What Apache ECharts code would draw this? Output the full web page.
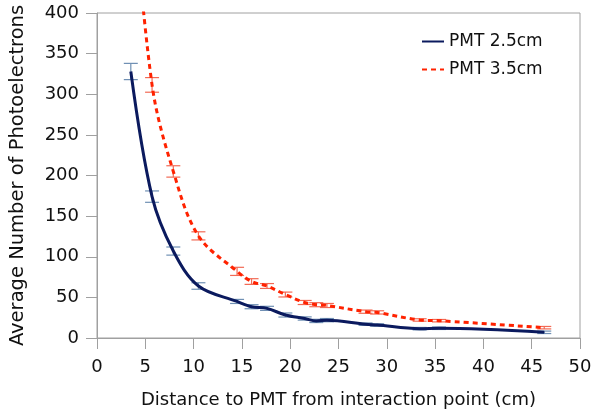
<!DOCTYPE html>
<html>
<head>
<meta charset="utf-8">
<script src="https://cdn.jsdelivr.net/npm/echarts@6/dist/echarts.min.js"></script>
<style>
html,body{margin:0;padding:0;background:#fff;}
#chart{width:593px;height:417px;}
</style>
</head>
<body>
<div id="chart"></div>
<script>
// Distances (cm)
var distances = [3.5, 5.7, 7.9, 10.5, 14.5, 16.0, 17.6, 19.5, 21.5, 22.7, 23.8, 27.8, 29.0, 33.4, 35.4, 46.3];
// PMT 2.5cm
var pmt25 = [328, 174, 107, 64, 45, 38.5, 36.5, 28.3, 24, 21, 22, 17, 16, 11.5, 12, 7];
var pmt25Err = [10, 7, 5, 4, 2.5, 2.5, 2.5, 2.5, 2, 2, 2, 1.5, 1.5, 1.5, 1.5, 1.5];
// PMT 3.5cm
var pmt35 = [580, 311.5, 205, 125.7, 82, 69.5, 64, 53.5, 43.7, 41, 40, 32.4, 31.5, 22.2, 21.3, 12.7];
var pmt35Err = [0, 9, 7, 5, 5, 3.5, 3, 3, 2.5, 2.5, 2.5, 2, 2, 1.5, 1.5, 1.5];

var seriesNames = ['PMT 2.5cm', 'PMT 3.5cm'];
var xTicks = [0, 5, 10, 15, 20, 25, 30, 35, 40, 45, 50];
var yTicks = [0, 50, 100, 150, 200, 250, 300, 350, 400];

var FONT = 'DejaVu Sans';

function pairs(xs, ys) {
  return xs.map(function (x, i) { return [x, ys[i]]; });
}
function errData(xs, ys, es) {
  return xs.map(function (x, i) { return [x, ys[i] - es[i], ys[i] + es[i]]; });
}
function errRender(color) {
  return function (params, api) {
    var x = api.value(0);
    var lo = api.coord([x, api.value(1)]);
    var hi = api.coord([x, api.value(2)]);
    var hw = 7;
    var st = { stroke: color, lineWidth: 1.2 };
    return {
      type: 'group',
      children: [
        { type: 'line', shape: { x1: lo[0], y1: lo[1], x2: hi[0], y2: hi[1] }, style: st },
        { type: 'line', shape: { x1: lo[0] - hw, y1: lo[1], x2: lo[0] + hw, y2: lo[1] }, style: st },
        { type: 'line', shape: { x1: hi[0] - hw, y1: hi[1], x2: hi[0] + hw, y2: hi[1] }, style: st }
      ]
    };
  };
}

var chart = echarts.init(document.getElementById('chart'), null, { renderer: 'canvas' });
var axisColor = '#a0a0a0';
chart.setOption({
  animation: false,
  backgroundColor: '#fff',
  textStyle: { fontFamily: FONT },
  grid: {
    left: 97, right: 13, top: 13, bottom: 79, show: true, borderColor: axisColor, borderWidth: 1,
    backgroundColor: 'transparent', outerBoundsMode: 'none', containLabel: false
  },
  legend: {
    orient: 'vertical', left: 416, top: 28, itemWidth: 22, itemHeight: 14, itemGap: 11,
    itemStyle: { opacity: 0 },
    textStyle: { fontFamily: FONT, fontSize: 17, color: '#111' },
    data: seriesNames
  },
  xAxis: {
    type: 'value', min: xTicks[0], max: xTicks[xTicks.length - 1], interval: 5,
    name: 'Distance to PMT from interaction point (cm)', nameLocation: 'middle', nameGap: 53,
    nameTextStyle: { fontFamily: FONT, fontSize: 18, color: '#111' },
    axisLine: { show: true, lineStyle: { color: axisColor } },
    axisTick: { show: true, length: 11, lineStyle: { color: axisColor } },
    axisLabel: { margin: 20, fontFamily: FONT, fontSize: 18, color: '#111' },
    splitLine: { show: false }
  },
  yAxis: {
    type: 'value', min: yTicks[0], max: yTicks[yTicks.length - 1], interval: 50,
    name: 'Average Number of Photoelectrons', nameLocation: 'middle', nameGap: 69,
    nameTextStyle: { fontFamily: FONT, fontSize: 19.5, color: '#111' },
    axisLine: { show: true, lineStyle: { color: axisColor } },
    axisTick: { show: true, length: 11, lineStyle: { color: axisColor } },
    axisLabel: { margin: 18, fontFamily: FONT, fontSize: 18, color: '#111' },
    splitLine: { show: false }
  },
  series: [
    {
      name: seriesNames[0], type: 'line', data: pairs(distances, pmt25), smooth: 0.35,
      symbol: 'none', clip: true,
      lineStyle: { color: '#0b1a5e', width: 3 }, itemStyle: { color: '#0b1a5e' }, z: 3
    },
    {
      name: seriesNames[1], type: 'line', data: pairs(distances, pmt35), smooth: 0.35,
      symbol: 'none', clip: true,
      lineStyle: { color: '#ff2200', width: 3, type: [5, 4] }, itemStyle: { color: '#ff2200' }, z: 3
    },
    {
      type: 'custom', data: errData(distances, pmt25, pmt25Err), renderItem: errRender('#7090b4'),
      clip: true, z: 2, encode: { x: 0, y: [1, 2] }, silent: true
    },
    {
      type: 'custom', data: errData(distances, pmt35, pmt35Err), renderItem: errRender('#f26a55'),
      clip: true, z: 2, encode: { x: 0, y: [1, 2] }, silent: true
    }
  ]
});
</script>
</body>
</html>
